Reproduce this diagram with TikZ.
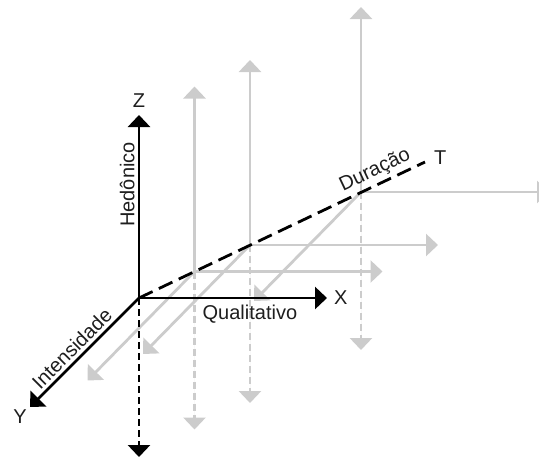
\documentclass[tikz,border=0pt]{standalone}
\usepackage{fontspec}
\setmainfont{Liberation Sans}
\usetikzlibrary{arrows.meta,positioning,calc}
\definecolor{ghostgrey}{RGB}{204,204,204}
\definecolor{labelblack}{RGB}{30,30,30}

\begin{document}
\begin{tikzpicture}[
    x=1pt, y=-1pt,
    axis/.style={line width=2.8pt, -{Triangle[width=22pt,length=12pt]}},
    ghost/.style={axis, draw=ghostgrey, fill=ghostgrey},
    downdash/.style={dash pattern=on 7pt off 4pt},
    lbl/.style={font=\fontsize{20}{24}\selectfont, text=labelblack, inner sep=3pt}
]
\useasboundingbox (0,0) rectangle (539,459);
\coordinate (O) at (139,298);
\coordinate (tstep) at (55.5,-26.5);

% grey copies of the frame, moved along T
\foreach \k in {1,2,4}{
  \coordinate (p\k) at ($(O)+\k*(tstep)$);
  \coordinate (p\k up) at ($(p\k)+(0,-185)$);
  \coordinate (p\k down) at ($(p\k)+(0,158)$);
  \coordinate (p\k right) at ($(p\k)+(188,0)$);
  \coordinate (p\k diag) at ($(p\k)+(-107,109)$);
  \draw[ghost] (p\k) -- (p\k up);
  \draw[ghost, downdash] (p\k) -- (p\k down);
  \draw[ghost] (p\k) -- (p\k right);
  \draw[ghost] (p\k) -- (p\k diag);
}

% black axes
\coordinate (zend) at (139,115);
\coordinate (dend) at (139,457);
\coordinate (xend) at (327,298);
\coordinate (yend) at (30,407);
\coordinate (tend) at (425,162);
\draw[axis] (O) -- node[lbl, pos=0.62, rotate=90, anchor=south] (hed) {Hedônico} (zend);
\draw[axis, downdash] (O) -- (dend);
\draw[axis] (O) -- node[lbl, pos=0.59, anchor=north, inner sep=6pt] (qual) {Qualitativo} (xend);
\draw[axis] (O) -- node[lbl, pos=0.54, rotate=45, anchor=south] (inten) {Intensidade} (yend);
\draw[line width=2.8pt, dash pattern=on 15pt off 7pt] (O) -- node[lbl, pos=0.846, rotate=25.4, anchor=south] (dur) {Duração} (tend);

\node[lbl, above=4pt of zend] (zlab) {Z};
\node[lbl, right=4pt of xend] (xlab) {X};
\node[lbl, below left=0pt of yend] (ylab) {Y};
\node[lbl, right=6pt of tend, yshift=4pt] (tlab) {T};
\end{tikzpicture}
\end{document}
